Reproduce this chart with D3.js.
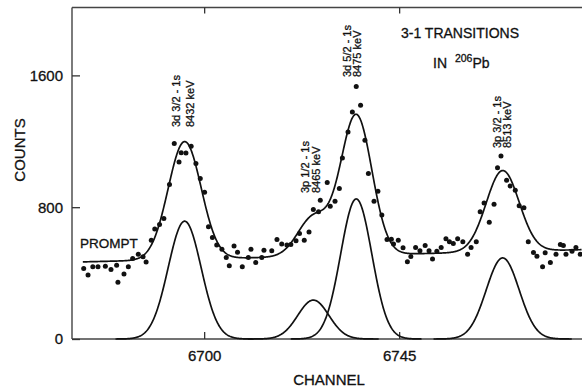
<!DOCTYPE html>
<html>
<head>
<meta charset="utf-8">
<script src="https://cdn.jsdelivr.net/npm/d3@7"></script>
<style>
  html, body { margin: 0; padding: 0; background: #fff; }
  svg { display: block; font-family: "Liberation Sans", Arial, Helvetica, sans-serif; }
  svg text { stroke: #111; stroke-width: 0.3px; }
</style>
</head>
<body>
<svg id="chart" width="582" height="387"></svg>
<script>
// ---- data ----
const channels = [6672.2,6673.2,6674.3,6675.5,6677.2,6678.5,6679.8,6680.1,6681.5,6682.5,6683.5,6684.8,6685.9,6686.6,6687.8,6688.6,6689.7,6690.7,
  6692.0,6693.1,6694.2,6694.7,6695.8,6697.0,6698.1,6699.1,6700.1,6701.0,6701.9,6702.9,6704.1,6705.1,6705.8,6706.9,6707.7,6708.8,6710.2,6710.8,
  6711.9,6713.3,6713.8,6715.6,6716.8,6717.9,6719.1,6720.0,6721.2,6722.0,6723.1,6724.2,6725.2,6726.4,6726.8,6728.4,6729.1,6730.2,6731.2,6731.9,
  6733.2,6734.2,6735.1,6736.1,6737.1,6737.9,6739.2,6740.1,6741.0,6742.2,6743.2,6743.7,6744.8,6745.9,6746.9,6747.7,6748.8,6749.8,6751.0,6751.9,
  6752.7,6753.7,6754.7,6755.8,6756.6,6757.5,6758.5,6759.7,6760.8,6761.6,6762.8,6763.7,6764.6,6765.8,6766.9,6767.7,6768.5,6769.8,6770.6,6771.8,
  6772.7,6773.8,6774.8,6776.0,6776.8,6778.1,6778.7,6779.9,6781.2,6782.2,6782.9,6783.5,6784.9,6785.8,6786.8];
const counts = [428,388,438,438,442,422,448,345,394,438,489,515,499,468,600,667,695,731,
  937,1186,1075,1131,1129,1170,1065,974,891,681,616,570,544,495,444,564,527,438,495,544,
  465,495,539,535,604,576,570,574,596,640,600,650,786,772,842,950,806,836,913,1099,
  1256,1378,1533,1418,1206,1004,836,897,752,604,606,576,600,554,469,501,556,535,568,535,
  485,533,556,608,590,580,608,590,515,556,590,772,826,709,818,1040,1111,964,929,903,
  808,796,590,525,503,438,523,465,515,574,568,515,533,556,515];

// fitted peak components (centre channel, amplitude in counts, width sigma in channels)
const peakCenters = [6695.5, 6725.2, 6735.1, 6768.9];
const peakAmps    = [715, 236, 850, 492];
const peakSigmas  = [3.8, 3.6, 3.6, 3.8];
// linear background of the total fit: [channel, counts] at both ends
const bgChannels = [6672, 6787];
const bgCounts   = [468, 542];
const fitRange   = [6672, 6787.2];

const peakLine1 = ["3d 3/2 - 1s", "3p 1/2 - 1s", "3d 5/2 - 1s", "3p 3/2 - 1s"];
const peakLine2 = ["8432 keV", "8465 keV", "8475 keV", "8513 keV"];

const xTicks = [6700, 6745];
const yTicks = [0, 800, 1600];

// ---- layout ----
const svg = d3.select("#chart");
const x = d3.scaleLinear().domain([6669.5, 6787.2]).range([72, 582]);
const y = d3.scaleLinear().domain([0, 2012]).range([339, 7.5]);
const ink = "#111";

const bg = d3.scaleLinear().domain(bgChannels).range(bgCounts);
const gauss = (c, i) => peakAmps[i] * Math.exp(-((c - peakCenters[i]) ** 2) / (2 * peakSigmas[i] ** 2));
const total = c => bg(c) + peakCenters.reduce((s, _, i) => s + gauss(c, i), 0);

// frame
const frame = svg.append("g").attr("stroke", "#444").attr("stroke-width", 1.4).attr("fill", "none");
frame.append("line").attr("x1", x.range()[0]).attr("x2", x.range()[0]).attr("y1", y.range()[0]).attr("y2", y.range()[1]);
frame.append("line").attr("x1", x.range()[0]).attr("x2", x.range()[1]).attr("y1", y.range()[0]).attr("y2", y.range()[0]);
frame.append("line").attr("x1", x.range()[0]).attr("x2", x.range()[1]).attr("y1", y.range()[1]).attr("y2", y.range()[1]);

// axes
const xAxis = svg.append("g").attr("transform", `translate(0,${y.range()[0]})`)
  .call(d3.axisBottom(x).tickValues(xTicks).tickSizeInner(-7).tickSizeOuter(0).tickPadding(11).tickFormat(d3.format("d")));
const xTop = svg.append("g").attr("transform", `translate(0,${y.range()[1]})`)
  .call(d3.axisTop(x).tickValues(xTicks).tickSizeInner(-6).tickSizeOuter(0).tickFormat(""));
const yAxis = svg.append("g").attr("transform", `translate(${x.range()[0]},0)`)
  .call(d3.axisLeft(y).tickValues(yTicks).tickSizeInner(-8).tickSizeOuter(0).tickPadding(9).tickFormat(d3.format("d")));
[xAxis, xTop, yAxis].forEach(g => {
  g.select(".domain").remove();
  g.selectAll(".tick line").attr("stroke", "#333").attr("stroke-width", 1.3);
  g.selectAll(".tick text").attr("fill", ink).style("font-size", "15px").style("font-family", "'Liberation Sans', Arial, sans-serif");
});

// component curves
const line = d3.line().x(d => x(d[0])).y(d => y(d[1])).curve(d3.curveLinear);
peakCenters.forEach((c0, i) => {
  const pts = d3.range(c0 - 4.2 * peakSigmas[i], c0 + 4.2 * peakSigmas[i], 0.1).map(c => [c, gauss(c, i)]);
  svg.append("path").attr("d", line(pts)).attr("fill", "none").attr("stroke", ink).attr("stroke-width", 1.7);
});

// total fit
const fitPts = d3.range(fitRange[0], fitRange[1], 0.1).map(c => [c, total(c)]);
svg.append("path").attr("d", line(fitPts)).attr("fill", "none").attr("stroke", ink).attr("stroke-width", 1.7);

// data points
svg.append("g").selectAll("circle").data(channels).join("circle")
  .attr("cx", d => x(d)).attr("cy", (d, i) => y(counts[i])).attr("r", 2.5).attr("fill", ink);

// peak labels (rotated, two lines)
const labelPos = [ // [dx of first baseline from peak centre, bottom y]
  [-5, 127], [-4, 193], [-5.5, 77], [-2, 148]
];
const lineGap = [14, 11, 10.5, 10.5];
peakCenters.forEach((c0, i) => {
  const bx = x(c0) + labelPos[i][0], by = labelPos[i][1];
  [peakLine1[i], peakLine2[i]].forEach((t, k) => {
    svg.append("text").attr("transform", `translate(${bx + k * lineGap[i]},${by}) rotate(-90)`)
      .attr("text-anchor", "start").attr("fill", ink).style("font-size", "11px").text(t);
  });
});

// title
svg.append("text").attr("x", 401).attr("y", 38).attr("fill", ink).style("font-size", "14px").text("3-1 TRANSITIONS");
const t2 = svg.append("text").attr("x", 433).attr("y", 68).attr("fill", ink).style("font-size", "14px");
t2.append("tspan").text("IN ");
t2.append("tspan").attr("dx", 4).attr("dy", -6).style("font-size", "10.5px").text("206");
t2.append("tspan").attr("dy", 6).text("Pb");

// PROMPT
svg.append("text").attr("x", 80).attr("y", 248).attr("fill", ink).style("font-size", "13.5px").text("PROMPT");

// axis titles
svg.append("text").attr("x", 329).attr("y", 385).attr("text-anchor", "middle").attr("fill", ink).style("font-size", "15px").text("CHANNEL");
svg.append("text").attr("transform", "translate(25,150) rotate(-90)").attr("text-anchor", "middle").attr("fill", ink).style("font-size", "15px").text("COUNTS");
</script>
</body>
</html>
